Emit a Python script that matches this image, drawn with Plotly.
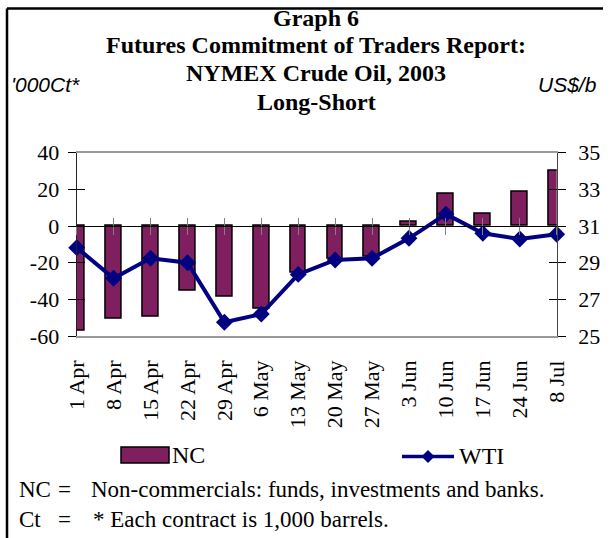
import plotly.graph_objects as go

W, H = 611, 538

dates = ["1 Apr", "8 Apr", "15 Apr", "22 Apr", "29 Apr", "6 May", "13 May",
         "20 May", "27 May", "3 Jun", "10 Jun", "17 Jun", "24 Jun", "8 Jul"]
nc = [-57, -50.5, -49.5, -35.3, -38.4, -44.9, -25.5,
      -17.8, -16.8, 2.4, 17.4, 6.5, 18.5, 30.2]
wti = [29.82, 28.15, 29.24, 29.0, 25.75, 26.2, 28.36,
       29.15, 29.24, 30.33, 31.65, 30.6, 30.29, 30.55]

left_ticks = [-60, -40, -20, 0, 20, 40]
left_labels = ["-60", "-40", "-20", "0", "20", "40"]
right_ticks = [25, 27, 29, 31, 33, 35]

BAR = "#7F1F5F"
NAVY = "#000080"
SERIF = "Liberation Serif"
SANS = "Liberation Sans"


def px(x):
    return x / W


def py(y):
    return 1 - y / H


X0, X1 = 76.7, 556.7
Y0, Y1 = 152.7, 336.0
zero_py = Y0 + (Y1 - Y0) * 40 / 100.0

fig = go.Figure()
fig.add_trace(go.Bar(x=dates, y=nc, name="NC", marker=dict(color=BAR, line=dict(color="black", width=1.5)),
                     width=0.43, xaxis="x", yaxis="y", showlegend=False))
fig.add_trace(go.Scatter(x=dates, y=wti, name="WTI", mode="lines+markers",
                         line=dict(color=NAVY, width=4),
                         marker=dict(symbol="diamond", size=13, color=NAVY),
                         cliponaxis=False, xaxis="x", yaxis="y2", showlegend=False))
for xa, ya in [("x2", "y"), ("x3", "y"), ("x", "y3"), ("x", "y4")]:
    fig.add_trace(go.Scatter(x=[None], y=[None], xaxis=xa, yaxis=ya, showlegend=False, hoverinfo="skip"))

dom_x = [px(X0), px(X1)]
dom_y = [py(Y1), py(Y0)]
tickfont = dict(family=SERIF, size=22, color="black")

common_x = dict(domain=dom_x, type="category", categoryorder="array", categoryarray=dates,
                range=[0, len(dates) - 1], showgrid=False, zeroline=False, automargin=False)

fig.update_layout(
    width=W, height=H, margin=dict(l=0, r=0, t=0, b=0, autoexpand=False),
    paper_bgcolor="white", plot_bgcolor="white", bargap=0,
    xaxis=dict(**common_x, ticks="", tickangle=-90,
               tickfont=tickfont, showline=True, linecolor="#999999", linewidth=1.5, mirror=True,
               ticklabelstandoff=14, anchor="y"),
    xaxis2=dict(**common_x, overlaying="x", anchor="free", position=py(zero_py),
                ticks="outside", ticklen=8, tickcolor="#808080", tickwidth=1,
                showticklabels=False, showline=True, linecolor="black", linewidth=1, side="bottom",
                tickmode="array", tickvals=dates),
    xaxis3=dict(**common_x, overlaying="x", anchor="free", position=py(zero_py),
                ticks="inside", ticklen=8, tickcolor="#808080", tickwidth=1,
                showticklabels=False, showline=False, side="bottom",
                tickmode="array", tickvals=dates),
    yaxis=dict(domain=dom_y, range=[-60, 40], tickmode="array", tickvals=left_ticks, ticktext=left_labels,
               showgrid=False, zeroline=False, automargin=False,
               ticks="outside", ticklen=8, tickcolor="black", showline=True, linecolor="#222222",
               linewidth=1.2, tickfont=tickfont, ticklabelstandoff=4, anchor="x"),
    yaxis3=dict(domain=dom_y, range=[-60, 40], tickvals=left_ticks, showgrid=False, zeroline=False,
                automargin=False, ticks="inside", ticklen=8, tickcolor="black", showline=False,
                showticklabels=False, overlaying="y", side="left", anchor="x"),
    yaxis2=dict(domain=dom_y, range=[25, 35], tickvals=right_ticks, showgrid=False, zeroline=False,
                automargin=False, ticks="outside", ticklen=8, tickcolor="black", showline=True,
                linecolor="#444444", linewidth=1.2, tickfont=tickfont, ticklabelstandoff=8, side="right",
                overlaying="y", anchor="x"),
    yaxis4=dict(domain=dom_y, range=[25, 35], tickvals=right_ticks, showgrid=False, zeroline=False,
                automargin=False, ticks="inside", ticklen=8, tickcolor="black", showline=False,
                showticklabels=False, overlaying="y", side="right", anchor="x"),
)

ann = []
titles = ["Graph 6", "Futures Commitment of Traders Report:", "NYMEX Crude Oil, 2003", "Long-Short"]
ty = [18, 45, 73, 102]
for t, yy in zip(titles, ty):
    ann.append(dict(text="<b>%s</b>" % t, x=px(316), y=py(yy), xref="paper", yref="paper",
                    xanchor="center", yanchor="middle", showarrow=False,
                    font=dict(family=SERIF, size=24, color="black")))
ann.append(dict(text="<i>'000Ct*</i>", x=px(9), y=py(84), xref="paper", yref="paper",
                xanchor="left", yanchor="middle", showarrow=False,
                font=dict(family=SANS, size=21, color="black")))
ann.append(dict(text="<i>US$/b</i>", x=px(599), y=py(84), xref="paper", yref="paper",
                xanchor="right", yanchor="middle", showarrow=False,
                font=dict(family=SANS, size=21, color="black")))
ann.append(dict(text="NC", x=px(170), y=py(455), xref="paper", yref="paper", xanchor="left",
                yanchor="middle", showarrow=False, font=dict(family=SERIF, size=24, color="black")))
ann.append(dict(text="WTI", x=px(457), y=py(456), xref="paper", yref="paper", xanchor="left",
                yanchor="middle", showarrow=False, font=dict(family=SERIF, size=24, color="black")))
foot = dict(family=SERIF, size=23, color="black")
for lab, yy, txt, tx in [("NC", 489, "Non-commercials: funds, investments and banks.", 89),
                         ("Ct", 519, "* Each contract is 1,000 barrels.", 91)]:
    ann.append(dict(text=lab, x=px(17), y=py(yy), xref="paper", yref="paper", xanchor="left",
                    yanchor="middle", showarrow=False, font=foot))
    ann.append(dict(text="=", x=px(56), y=py(yy), xref="paper", yref="paper", xanchor="left",
                    yanchor="middle", showarrow=False, font=foot))
    ann.append(dict(text=txt, x=px(tx), y=py(yy), xref="paper", yref="paper", xanchor="left",
                    yanchor="middle", showarrow=False, font=foot))
fig.update_layout(annotations=ann)

shapes = []
shapes.append(dict(type="line", xref="paper", yref="paper", x0=px(7), x1=px(603), y0=py(8.5), y1=py(8.5),
                   line=dict(color="black", width=2.5)))
shapes.append(dict(type="line", xref="paper", yref="paper", x0=px(7), x1=px(7), y0=py(8.5), y1=py(H + 2),
                   line=dict(color="black", width=2.5)))
shapes.append(dict(type="rect", xref="paper", yref="paper", x0=px(121), x1=px(169), y0=py(463), y1=py(447),
                   fillcolor=BAR, line=dict(color="black", width=1.5)))
shapes.append(dict(type="line", xref="paper", yref="paper", x0=px(402), x1=px(454), y0=py(456.5), y1=py(456.5),
                   line=dict(color=NAVY, width=3.5)))
cx, cy, r = 428, 456.5, 6.5
shapes.append(dict(type="path", xref="paper", yref="paper",
                   path="M %f %f L %f %f L %f %f L %f %f Z" % (px(cx - r), py(cy), px(cx), py(cy - r),
                                                             px(cx + r), py(cy), px(cx), py(cy + r)),
                   fillcolor=NAVY, line=dict(color=NAVY, width=0)))
fig.update_layout(shapes=shapes)

fig.write_html("out.html", config={"displayModeBar": False},
               post_script="document.body.style.margin='0';document.body.style.overflow='hidden';")
